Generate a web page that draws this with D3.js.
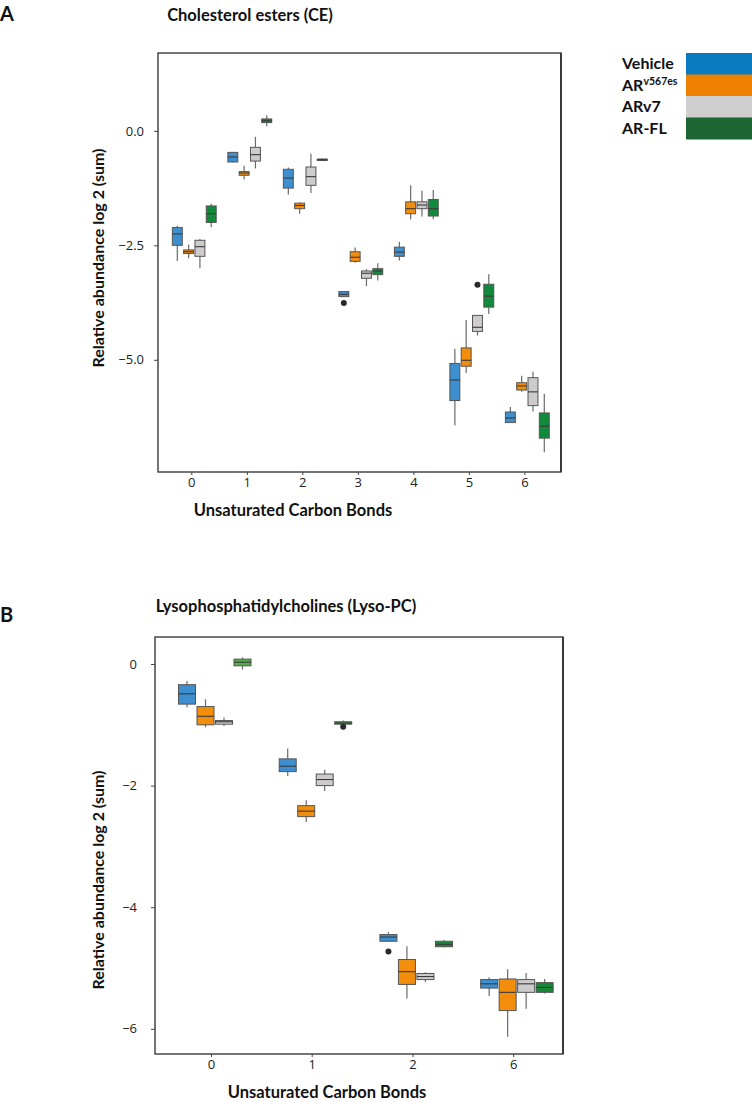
<!DOCTYPE html>
<html><head><meta charset="utf-8">
<script src="https://cdn.jsdelivr.net/npm/d3@7"></script>
<style>
html,body{margin:0;padding:0;background:#fff;}
svg{display:block;}
</style>
</head><body>
<svg id="chart" width="752" height="1102"></svg>
<script>
// ---------- DATA ----------
const seriesNames = ["Vehicle", "ARv567es", "ARv7", "AR-FL"];

// Panel A: Cholesterol esters, stats per category: [whiskerLow, q1, median, q3, whiskerHigh]
const ceCategories = ["0", "1", "2", "3", "4", "5", "6"];
const ceVehicle = [
  [-2.84, -2.50, -2.25, -2.11, -2.07],
  [-0.69, -0.68, -0.57, -0.47, -0.46],
  [-1.39, -1.25, -1.03, -0.84, -0.80],
  [-3.62, -3.62, -3.57, -3.51, -3.51],
  [-2.83, -2.74, -2.65, -2.54, -2.42],
  [-6.43, -5.89, -5.44, -5.08, -4.76],
  [-6.38, -6.37, -6.27, -6.14, -6.03]
];
const ceARv567es = [
  [-2.78, -2.68, -2.64, -2.60, -2.48],
  [-1.06, -0.97, -0.92, -0.89, -0.76],
  [-1.81, -1.70, -1.63, -1.58, -1.56],
  [-2.88, -2.85, -2.76, -2.64, -2.55],
  [-1.93, -1.81, -1.70, -1.55, -1.19],
  [-5.29, -5.14, -5.01, -4.74, -4.13],
  [-5.70, -5.66, -5.57, -5.50, -5.35]
];
const ceARv7 = [
  [-3.00, -2.74, -2.53, -2.39, -2.36],
  [-0.82, -0.66, -0.52, -0.36, -0.13],
  [-1.36, -1.19, -1.00, -0.79, -0.50],
  [-3.39, -3.22, -3.11, -3.06, -3.02],
  [-1.87, -1.70, -1.62, -1.55, -1.31],
  [-4.47, -4.38, -4.29, -4.03, -4.03],
  [-6.13, -6.00, -5.70, -5.39, -5.26]
];
const ceARFL = [
  [-2.10, -2.00, -1.81, -1.64, -1.59],
  [0.10, 0.18, 0.22, 0.26, 0.34],
  [-0.65, -0.645, -0.63, -0.615, -0.61],
  [-3.27, -3.14, -3.06, -3.01, -2.89],
  [-1.93, -1.86, -1.70, -1.50, -1.29],
  [-4.00, -3.85, -3.61, -3.35, -3.13],
  [-7.02, -6.71, -6.45, -6.16, -5.74]
];
// outliers: [categoryIndex, seriesIndex, value]
const ceOutliers = [[3, 0, -3.76], [5, 2, -3.36]];
const ceYTicks = [0, -2.5, -5];

// Panel B: Lysophosphatidylcholines
const lysoCategories = ["0", "1", "2", "6"];
const lysoVehicle = [
  [-0.71, -0.66, -0.49, -0.34, -0.28],
  [-1.84, -1.77, -1.68, -1.56, -1.39],
  [-4.56, -4.56, -4.49, -4.45, -4.41],
  [-5.46, -5.33, -5.26, -5.19, -5.15]
];
const lysoARv567es = [
  [-1.04, -1.00, -0.86, -0.70, -0.58],
  [-2.60, -2.51, -2.42, -2.33, -2.24],
  [-5.50, -5.27, -5.06, -4.86, -4.64],
  [-6.13, -5.70, -5.40, -5.18, -5.02]
];
const lysoARv7 = [
  [-1.02, -0.99, -0.95, -0.93, -0.88],
  [-2.09, -2.00, -1.90, -1.81, -1.74],
  [-5.23, -5.19, -5.14, -5.09, -5.07],
  [-5.67, -5.40, -5.26, -5.19, -5.08]
];
const lysoARFL = [
  [-0.09, -0.03, 0.03, 0.08, 0.11],
  [-0.99, -0.99, -0.97, -0.95, -0.93],
  [-4.66, -4.65, -4.61, -4.56, -4.54],
  [-5.42, -5.40, -5.32, -5.24, -5.18]
];
const lysoOutliers = [[2, 0, -4.73], [1, 3, -1.03]];
const lysoYTicks = [0, -2, -4, -6];

// ---------- STYLE ----------
const legendColors = ["#0a7bbf", "#ee8100", "#cfcfcf", "#1b6632"];
const boxColors = ["#3d8fcf", "#f28e0c", "#cdcbcb", "#118a3c"];
const lysoGreenShades = ["#55aa4b", "#3f9a3e", "#17873a", "#17873a"];
const tickFont = "'Open Sans', sans-serif";
const boldFont = "Lato, 'Open Sans', sans-serif";

const svg = d3.select("#chart");

function drawPanel(cfg) {
  const g = svg.append("g");
  const x = d3.scaleLinear().domain(cfg.xDomain).range([cfg.left, cfg.right]);
  const y = d3.scaleLinear().domain(cfg.yDomain).range([cfg.bottom, cfg.top]);
  const inner = d3.scaleBand().domain(seriesNames).range(cfg.innerRange)
    .paddingInner(cfg.pad).paddingOuter(0);
  const bw = inner.bandwidth();

  // boxes
  cfg.series.forEach((arr, si) => {
    arr.forEach((s, ci) => {
      const cx = x(ci) + inner(seriesNames[si]) + bw / 2;
      const x0 = cx - bw / 2;
      const fill = cfg.fill(si, ci);
      g.append("line").attr("x1", cx).attr("x2", cx)
        .attr("y1", y(s[0])).attr("y2", y(s[1]))
        .attr("stroke", "#6a6a6a").attr("stroke-width", 1.2);
      g.append("line").attr("x1", cx).attr("x2", cx)
        .attr("y1", y(s[3])).attr("y2", y(s[4]))
        .attr("stroke", "#6a6a6a").attr("stroke-width", 1.2);
      g.append("rect").attr("x", x0).attr("width", bw)
        .attr("y", y(s[3])).attr("height", Math.max(1.5, y(s[1]) - y(s[3])))
        .attr("fill", fill).attr("stroke", "#555").attr("stroke-width", 1);
      g.append("line").attr("x1", x0).attr("x2", x0 + bw)
        .attr("y1", y(s[2])).attr("y2", y(s[2]))
        .attr("stroke", "#3a3a3a").attr("stroke-width", 1.1);
    });
  });
  cfg.outliers.forEach(o => {
    const cx = x(o[0]) + inner(seriesNames[o[1]]) + bw / 2;
    g.append("circle").attr("cx", cx).attr("cy", y(o[2])).attr("r", 3)
      .attr("fill", "#2a2a2a");
  });

  // frame
  g.append("rect").attr("x", cfg.left).attr("y", cfg.top)
    .attr("width", cfg.right - cfg.left).attr("height", cfg.bottom - cfg.top)
    .attr("fill", "none").attr("stroke", "#3a3a3a").attr("stroke-width", 1.4);
  g.append("line").attr("x1", cfg.right).attr("x2", cfg.right)
    .attr("y1", cfg.top).attr("y2", cfg.bottom)
    .attr("stroke", "#3a3a3a").attr("stroke-width", 2);

  // y axis
  const ya = g.append("g").attr("transform", `translate(${cfg.left},0)`)
    .call(d3.axisLeft(y).tickValues(cfg.yTicks).tickSize(4).tickPadding(cfg.yPad)
      .tickFormat(cfg.yFormat));
  ya.select(".domain").remove();
  ya.selectAll("line").attr("stroke", "#444");
  ya.selectAll("text").attr("font-family", tickFont).attr("font-size", 13).attr("fill", "#222");

  // x axis
  const xa = g.append("g").attr("transform", `translate(0,${cfg.bottom})`)
    .call(d3.axisBottom(x).tickValues(d3.range(cfg.cats.length)).tickSize(3).tickPadding(3)
      .tickFormat(i => cfg.cats[i]));
  xa.select(".domain").remove();
  xa.selectAll("line").attr("stroke", "#444");
  xa.selectAll("text").attr("font-family", tickFont).attr("font-size", 13).attr("fill", "#222");

  // labels
  svg.append("text").attr("x", cfg.titleX).attr("y", cfg.titleY).attr("text-anchor", "middle")
    .attr("font-family", boldFont).attr("font-weight", "bold").attr("font-size", 16.5)
    .attr("fill", "#111").text(cfg.title);
  svg.append("text").attr("x", 0).attr("y", cfg.letterY)
    .attr("font-family", boldFont).attr("font-weight", "bold").attr("font-size", 20)
    .attr("fill", "#111").text(cfg.letter);
  svg.append("text").attr("x", cfg.xLabelX).attr("y", cfg.xLabelY).attr("text-anchor", "middle")
    .attr("font-family", boldFont).attr("font-weight", "bold").attr("font-size", 16.5)
    .attr("fill", "#111").text("Unsaturated Carbon Bonds");
  svg.append("text").attr("transform", `translate(${cfg.yLabelX},${cfg.yLabelY}) rotate(-90)`)
    .attr("text-anchor", "middle")
    .attr("font-family", boldFont).attr("font-weight", "bold").attr("font-size", 16)
    .attr("fill", "#111").text("Relative abundance log 2 (sum)");
}

drawPanel({
  left: 158, right: 561, top: 53, bottom: 472,
  xDomain: [-0.6, 6.66], yDomain: [-7.45, 1.70],
  innerRange: [-18.97, 24.9], pad: 0.12,
  series: [ceVehicle, ceARv567es, ceARv7, ceARFL],
  fill: (si) => boxColors[si],
  outliers: ceOutliers, yTicks: ceYTicks, yPad: 10, yFormat: d3.format(".1f"),
  cats: ceCategories,
  title: "Cholesterol esters (CE)", titleX: 250, titleY: 21,
  letter: "A", letterY: 21,
  xLabelX: 293, xLabelY: 516, yLabelX: 104, yLabelY: 258
});

drawPanel({
  left: 155, right: 563, top: 637, bottom: 1054,
  xDomain: [-0.556, 3.495], yDomain: [-6.414, 0.444],
  innerRange: [-32.5, 40], pad: 0.081,
  series: [lysoVehicle, lysoARv567es, lysoARv7, lysoARFL],
  fill: (si, ci) => si === 3 ? lysoGreenShades[ci] : boxColors[si],
  outliers: lysoOutliers, yTicks: lysoYTicks, yPad: 14, yFormat: d3.format("d"),
  cats: lysoCategories,
  title: "Lysophosphatidylcholines (Lyso-PC)", titleX: 286, titleY: 612,
  letter: "B", letterY: 622,
  xLabelX: 327, xLabelY: 1098, yLabelX: 104, yLabelY: 880
});

// legend
const legY = d3.scaleBand().domain(seriesNames).range([53, 139]);
const leg = svg.append("g");
leg.selectAll("rect").data(seriesNames).join("rect")
  .attr("x", 686).attr("width", 66)
  .attr("y", d => legY(d)).attr("height", legY.bandwidth() + 0.5)
  .attr("fill", (d, i) => legendColors[i]);
const legText = leg.selectAll("text").data(seriesNames).join("text")
  .attr("x", 622).attr("y", d => legY(d) + legY.bandwidth() / 2 + 5.5)
  .attr("font-family", boldFont).attr("font-weight", "bold").attr("font-size", 16)
  .attr("fill", "#111");
legText.each(function (d) {
  const t = d3.select(this);
  if (d === "ARv567es") {
    t.append("tspan").text("AR");
    t.append("tspan").attr("font-size", 10.5).attr("dy", -5.5).text("v567es");
  } else {
    t.text(d);
  }
});
</script>
</body></html>
